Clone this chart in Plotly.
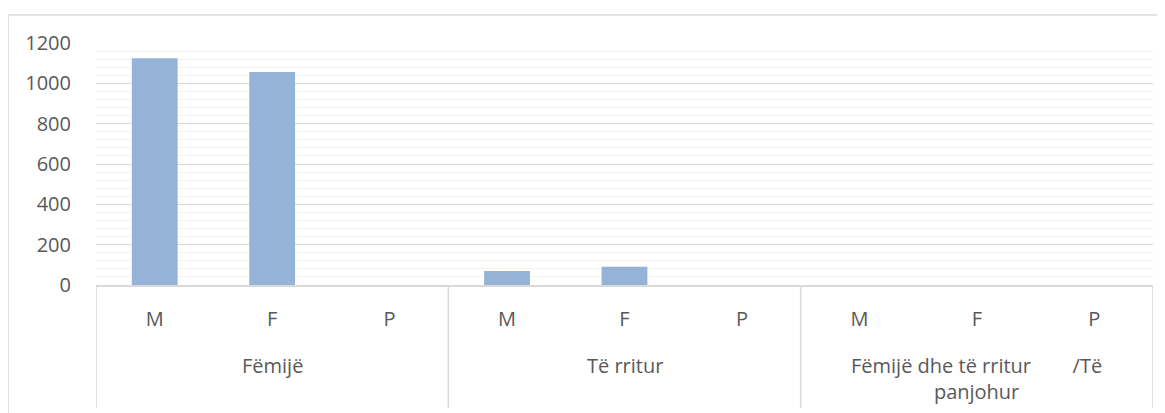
import plotly.graph_objects as go

groups = ["Fëmijë", "Të rritur", "Fëmijë dhe të rritur\u00a0\u00a0\u00a0\u00a0\u00a0\u00a0\u00a0\u00a0/Të<br>panjohur"]
categories = ["M", "F", "P"]
values = [1124, 1056, 0, 70, 90, 0, 0, 0, 0]
yticks = [0, 200, 400, 600, 800, 1000, 1200]

OFF = 8  # page body offset
W, H = 1165 - OFF, 413 - OFF
# plot area in screen pixels
X0, X1, Y0, Y1 = 96, 1153, 43, 285
L, R, T, B = X0 - OFF, W - (X1 - OFF), Y0 - OFF, H - (Y1 - OFF)
pw, ph = W - L - R, H - T - B

def px_x(p):
    return (p - X0) / pw

def px_y(p):
    return (Y1 - p) / ph

labels = [c for g in groups for c in categories]
xs = list(range(len(labels)))

font = dict(family="Open Sans", size=20, color="#595959")

fig = go.Figure()
fig.add_trace(go.Bar(x=xs, y=values, marker=dict(color="#95b3d7", line=dict(width=0)),
                     width=0.39, hoverinfo="skip"))

fig.update_layout(
    width=W, height=H,
    margin=dict(l=L, r=R, t=T, b=B, autoexpand=False),
    paper_bgcolor="white", plot_bgcolor="white",
    showlegend=False, font=font,
    xaxis=dict(range=[-0.5, 8.5], tickvals=xs, ticktext=labels, showgrid=False,
               zeroline=False, showline=True, linecolor="#d9d9d9", linewidth=1.5,
               ticks="", ticklabelstandoff=15, tickfont=font, fixedrange=True, automargin=False),
    yaxis=dict(range=[0, 1200], tickvals=yticks, showgrid=True, gridcolor="#d9d9d9",
               gridwidth=1.2, zeroline=False, showline=False, ticks="",
               ticklabelstandoff=24, tickfont=font, automargin=False,
               minor=dict(dtick=40, tick0=0, showgrid=True, gridcolor="#f2f2f2", gridwidth=1.2),
               fixedrange=True),
)

# group dividers
for xb in [-0.5, 2.5, 5.5, 8.5]:
    fig.add_shape(type="line", xref="x", yref="paper", x0=xb, x1=xb, y0=0, y1=px_y(408),
                  line=dict(color="#d9d9d9", width=1.5), layer="above")

# group labels
for i, g in enumerate(groups):
    fig.add_annotation(x=i * 3 + 1, xref="x", y=px_y(350), yref="paper", text=g,
                       showarrow=False, yanchor="top", font=font, align="center")

# outer chart border
fig.add_shape(type="line", xref="paper", yref="paper", x0=px_x(8), x1=px_x(1170),
              y0=px_y(15), y1=px_y(15), line=dict(color="#d9d9d9", width=1.5))
fig.add_shape(type="line", xref="paper", yref="paper", x0=px_x(8), x1=px_x(8),
              y0=px_y(15), y1=px_y(420), line=dict(color="#d9d9d9", width=1.5))

fig.write_html("out.html")
